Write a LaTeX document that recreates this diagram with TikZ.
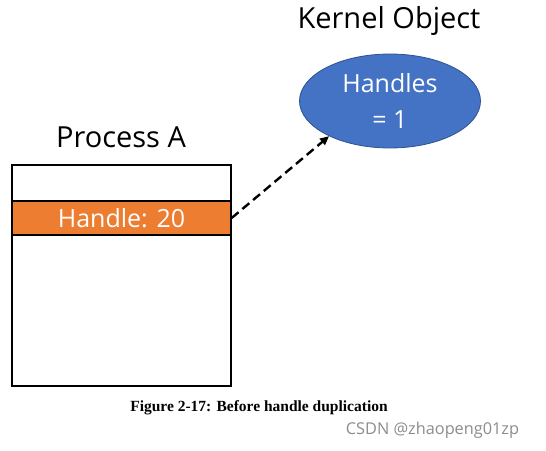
\documentclass[tikz,border=0pt]{standalone}
\usepackage{fontspec}
\setmainfont{Open Sans}
\newfontfamily\capfont{Liberation Serif}
\usetikzlibrary{positioning, arrows.meta, shapes.geometric}
\definecolor{handleorange}{HTML}{ED7D31}
\definecolor{kobjblue}{HTML}{4472C4}
\definecolor{kobjedge}{HTML}{2F528F}

\begin{document}
\begin{tikzpicture}[x=1pt, y=-1pt,
    title/.style={font=\fontsize{29}{33}\selectfont},
    slot/.style={draw, line width=1.3pt, minimum width=219pt, minimum height=34pt, inner sep=0pt},
    kobj/.style={ellipse, draw=kobjedge, fill=kobjblue, text=white, line width=0.8pt, minimum width=181pt, minimum height=94pt, inner sep=0pt, align=center, font=\fontsize{25}{36}\selectfont}]
    \useasboundingbox (0,0) rectangle (546,450);
    \node[draw, line width=1.3pt, minimum width=219pt, minimum height=221pt, inner sep=0pt] (proc) at (121.5,275.5) {};
    \node[slot, fill=handleorange, text=white, font=\fontsize{25}{29}\selectfont] (row) at (121.5,218) {Handle: 20};
    \node[title] (ptitle) at (121,137) {Process A};
    \node[kobj] (kernel) at (390,101) {Handles\\= 1};
    \node[title] (ktitle) at (389,21) {Kernel Object};
    \draw[-{Triangle[length=9pt, width=8pt]}, dashed, dash pattern=on 9pt off 5pt, line width=2.4pt] (row.east) -- (kernel.210);
    \node[font=\capfont\bfseries\fontsize{15.5}{18}\selectfont] (caption) at (259,408) {Figure 2-17: Before handle duplication};
    \node[font=\fontsize{16.3}{18}\selectfont, text=black!45] (mark) at (432.5,430) {CSDN @zhaopeng01zp};
\end{tikzpicture}
\end{document}
